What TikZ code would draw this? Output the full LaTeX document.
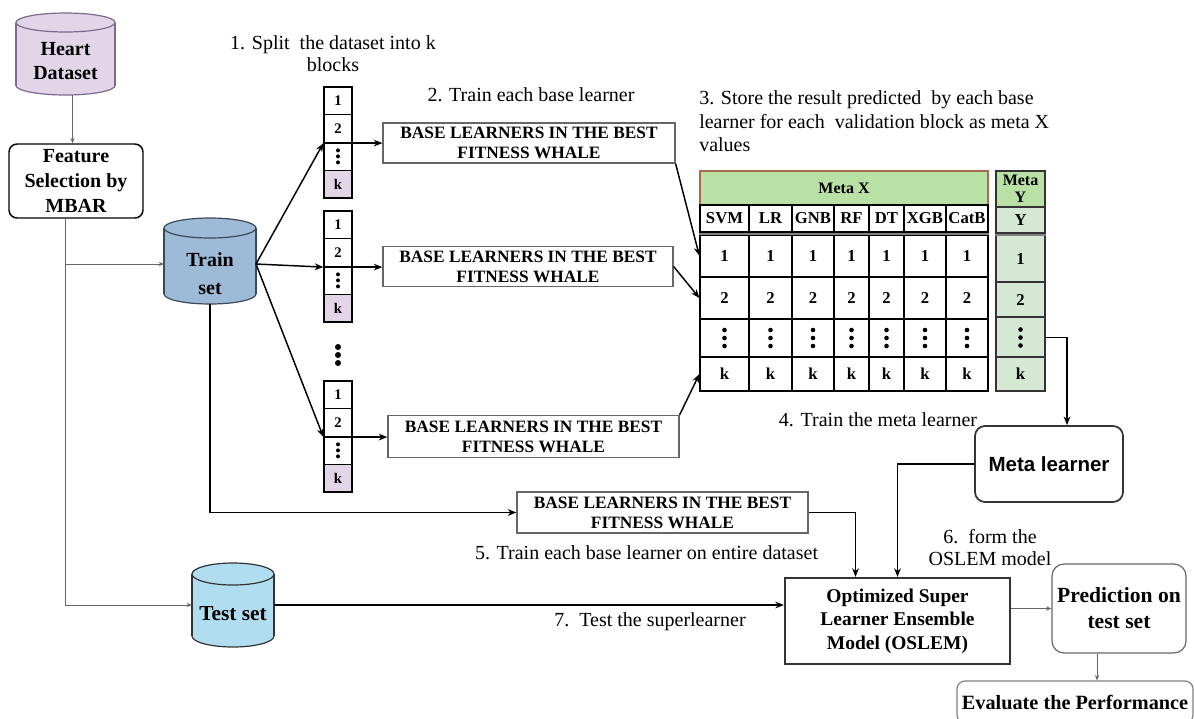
\documentclass[tikz,border=0pt]{standalone}
\usepackage{fontspec}
\setmainfont{Liberation Serif}
\newfontfamily\arialfont{Liberation Sans}
\usetikzlibrary{arrows.meta}
\def\dpx{0.75pt}
\definecolor{heartfill}{HTML}{E1D5E7}
\definecolor{heartline}{HTML}{7E6A8C}
\definecolor{trainfill}{HTML}{9DBAD7}
\definecolor{trainline}{HTML}{3A4A5A}
\definecolor{testfill}{HTML}{B1DDF0}
\definecolor{testline}{HTML}{333333}
\definecolor{kfill}{HTML}{E1D5E7}
\definecolor{mxfill}{HTML}{B9E0A5}
\definecolor{mxline}{HTML}{A86A4A}
\definecolor{myfill}{HTML}{D5E8D4}
\definecolor{darkline}{HTML}{333333}
\definecolor{midline}{HTML}{666666}
% cylinder: centre x, top y, bottom y, x radius, y radius, fill, stroke
\newcommand\dbcyl[7]{%
  \filldraw[fill=#6, draw=#7, line width=0.9pt] (#1,#3-#5) ellipse[x radius=#4, y radius=#5];
  \fill[#6] (#1-#4,#2+#5) rectangle (#1+#4,#3-#5);
  \draw[#7, line width=0.9pt] (#1-#4,#2+#5) -- (#1-#4,#3-#5) (#1+#4,#2+#5) -- (#1+#4,#3-#5);
  \filldraw[fill=#6, draw=#7, line width=0.9pt] (#1,#2+#5) ellipse[x radius=#4, y radius=#5];
}
\tikzset{
  sz/.style 2 args={minimum width=#1*\dpx, minimum height=#2*\dpx},
  bfnt/.style 2 args={font=\fontsize{#1}{#2}\selectfont\bfseries},
  shape0/.style={inner sep=0, outer sep=0},
  lbl/.style={inner sep=0, align=center},
  steplbl/.style={inner sep=0, align=center, font=\fontsize{15}{17.6}\selectfont},
  blk/.style={draw=black, line width=0.9pt, sz={28}{27.75}, inner sep=0, bfnt={11}{12}},
  basebox/.style={draw=midline, line width=0.9pt, inner sep=0, align=center, bfnt={13}{15}},
  tcell/.style={draw=black, line width=0.9pt, inner sep=0, align=center, fill=white, bfnt={12.5}{13}},
  ycell/.style={draw=darkline, line width=0.9pt, inner sep=0, align=center, fill=myfill, bfnt={12.5}{13}},
  conn/.style={line width=1.1pt, -{Stealth[length=6.5pt, width=5pt]}},
  thin/.style={draw=midline, line width=0.75pt, -{Stealth[length=4pt, width=3.2pt]}},
}
\begin{document}
\begin{tikzpicture}[x=\dpx, y=-\dpx]
\useasboundingbox (0,0) rectangle (1194,718);
\clip (0,0) rectangle (1194,718);

% ---------- data stores ----------
\dbcyl{65.5}{13}{95}{49.5}{9.5}{heartfill}{heartline}
\dbcyl{210}{218}{304}{46}{10}{trainfill}{trainline}
\dbcyl{233}{563}{647}{41}{11}{testfill}{testline}
\node[shape0, sz={99}{82}] (heart) at (65.5,54) {};
\node[shape0, sz={92}{80}] (train) at (210,264) {};
\node[shape0, sz={82}{84}] (test) at (233,605) {};
\node[lbl, bfnt={15}{18}] (heartlbl) at (65.5,61) {Heart\\Dataset};
\node[lbl, bfnt={15}{21}] (trainlbl) at (210,274) {Train\\set};
\node[lbl, bfnt={16}{18}] (testlbl) at (233,614) {Test set};

% ---------- feature selection ----------
\node[draw=black, line width=1.1pt, rounded corners=8*\dpx, sz={134}{74}, lbl, bfnt={15}{18.4}]
  (feature) at (76,181) {Feature\\Selection by\\MBAR};

% ---------- fold stacks ----------
\foreach \s/\top in {1/87, 2/211, 3/381}{
  \foreach \c/\t in {1/1, 2/2, 3/{}, 4/k}{
    \node[blk] (s\s\c) at (338,{\top+13.875+27.75*(\c-1)}) {\t};
  }
  \fill (s\s3.center) ++(0,-6) circle[radius=2] ++(0,6) circle[radius=2] ++(0,6) circle[radius=2];
  \node[blk, fill=kfill] at (s\s4) {k};
}
\fill (338,347) circle[radius=3] (338,355) circle[radius=3] (338,363) circle[radius=3];

% ---------- base learner boxes ----------
\node[basebox, sz={292}{40}] (box1) at (529,143) {BASE LEARNERS IN THE BEST\\FITNESS WHALE};
\node[basebox, sz={290}{40}] (box2) at (528,266.5) {BASE LEARNERS IN THE BEST\\FITNESS WHALE};
\node[basebox, sz={291}{42}] (box3) at (533.5,436.5) {BASE LEARNERS IN THE BEST\\FITNESS WHALE};
\node[basebox, sz={291}{41}] (box4) at (662.5,512.5) {BASE LEARNERS IN THE BEST\\FITNESS WHALE};

% ---------- meta X table ----------
\node[draw=mxline, line width=0.9pt, fill=mxfill, sz={288}{34}, lbl, bfnt={12}{13}] (mx) at (844,188) {Meta X};
\foreach \i/\cx/\w/\lab in {1/724.5/49/SVM, 2/770.5/43/LR, 3/813/42/GNB, 4/851.5/35/RF,
                           5/886.5/35/DT, 6/925/42/XGB, 7/967/42/CatB}{
  \node[tcell, sz={\w}{27}] (h\i) at (\cx,218.5) {\lab};
  \foreach \r/\cy/\h/\t in {1/256/42/1, 2/298/42/2, 3/338/38/{}, 4/374/34/k}{
    \node[tcell, sz={\w}{\h}] (r\r c\i) at (\cx,\cy) {\t};
  }
  \fill (r3c\i.center) ++(0,-8) circle[radius=2.3] ++(0,8) circle[radius=2.3] ++(0,8) circle[radius=2.3];
}
\draw[gray, line width=2pt] (h1.south west) ++(0,1.5) -- ([yshift=-1.5*\dpx]h7.south east);

% ---------- meta Y column ----------
\node[ycell, fill=mxfill, sz={49}{36}, bfnt={12}{12.5}] (my0) at (1020.5,189) {Meta\\Y};
\node[ycell, sz={49}{26}] (myY) at (1020.5,220) {Y};
\node[ycell, sz={49}{46}] (my1) at (1020.5,258.5) {1};
\node[ycell, sz={49}{35}] (my2) at (1020.5,299.5) {2};
\node[ycell, sz={49}{40}] (my3) at (1020.5,337.5) {};
\node[ycell, sz={49}{34}] (my4) at (1020.5,374) {k};
\fill (my3.center) ++(0,-8) circle[radius=2.3] ++(0,8) circle[radius=2.3] ++(0,8) circle[radius=2.3];
\draw[gray, line width=2pt] (myY.south west) ++(0,1.5) -- ([yshift=-1.5*\dpx]myY.south east);

% ---------- meta learner, final model, outputs ----------
\node[draw=darkline, line width=1.3pt, rounded corners=10*\dpx, sz={148}{76}, lbl,
      font=\arialfont\fontsize{15.4}{17}\selectfont\bfseries] (metal) at (1049,464) {Meta learner};
\node[draw=darkline, line width=1.6pt, sz={225}{86}, lbl, bfnt={14.6}{17.6}]
  (oslem) at (897.5,621) {Optimized Super\\Learner Ensemble\\Model (OSLEM)};
\node[draw=midline, line width=0.9pt, rounded corners=12*\dpx, sz={134}{89}, lbl, bfnt={16.2}{19.5}]
  (pred) at (1119,608.5) {Prediction on\\test set};
\node[draw=gray, line width=0.9pt, rounded corners=8*\dpx, sz={236}{42}, lbl, bfnt={15.2}{17}]
  (eval) at (1075,702) {Evaluate the Performance};

% ---------- step captions ----------
\node[steplbl, font=\fontsize{15}{16.5}\selectfont] (t1) at (333,54) {1. Split\ \ the dataset into k\\blocks};
\node[steplbl] (t2) at (531,95) {2. Train each base learner};
\node[steplbl, align=left, anchor=west] (t3) at (699,121.5)
  {3. Store the result predicted\ \ by each base\\learner for each\ \ validation block as meta X\\values};
\node[steplbl] (t4) at (878,420) {4. Train the meta learner};
\node[steplbl] (t5) at (646.5,553) {5. Train each base learner on entire dataset};
\node[steplbl, font=\fontsize{15}{16.5}\selectfont] (t6) at (990,548) {6.\ \ form the\\OSLEM model};
\node[steplbl] (t7) at (650,622) {7.\ \ Test the superlearner};

% ---------- connectors ----------
\draw[thin] ([xshift=7*\dpx]heart.south) -- ([xshift=7*\dpx]heart.south |- feature.north);
\draw[thin] (heart.south |- feature.south) -- (heart.south |- test.west) -- (test.west);
\draw[thin] (heart.south |- train.west) -- (train.west);

\draw[conn] (train.east) -- (s12.south west);
\draw[conn] (train.east) -- (s22.south west);
\draw[conn] (train.east) -- (s32.south west);
\draw[conn] (s12.south west) -- (s12.south west -| box1.west);
\draw[conn] (s22.south west) -- (s22.south west -| box2.west);
\draw[conn] (s32.south west) -- (s32.south west -| box3.west);
\draw[conn] (train.south) |- (box4.west);

\draw[conn] (box1.south east) -- (r1c1.west);
\draw[conn] (box2.east) -- (r2c1.west);
\draw[conn] (box3.north east) -- (r4c1.west);

\draw[conn] (my3.east) -| ([xshift=18*\dpx]metal.north);
\draw[conn] (metal.west) -| (oslem.north);
\draw[conn] (box4.east) -| ([xshift=-42*\dpx]oslem.north);
\draw[conn] (test.east) -- (test.east -| oslem.west);
\draw[thin] (pred.west -| oslem.east) -- (pred.west);
\draw[thin] ([xshift=-22*\dpx]pred.south) -- ([xshift=-22*\dpx]pred.south |- eval.north);
\end{tikzpicture}
\end{document}
